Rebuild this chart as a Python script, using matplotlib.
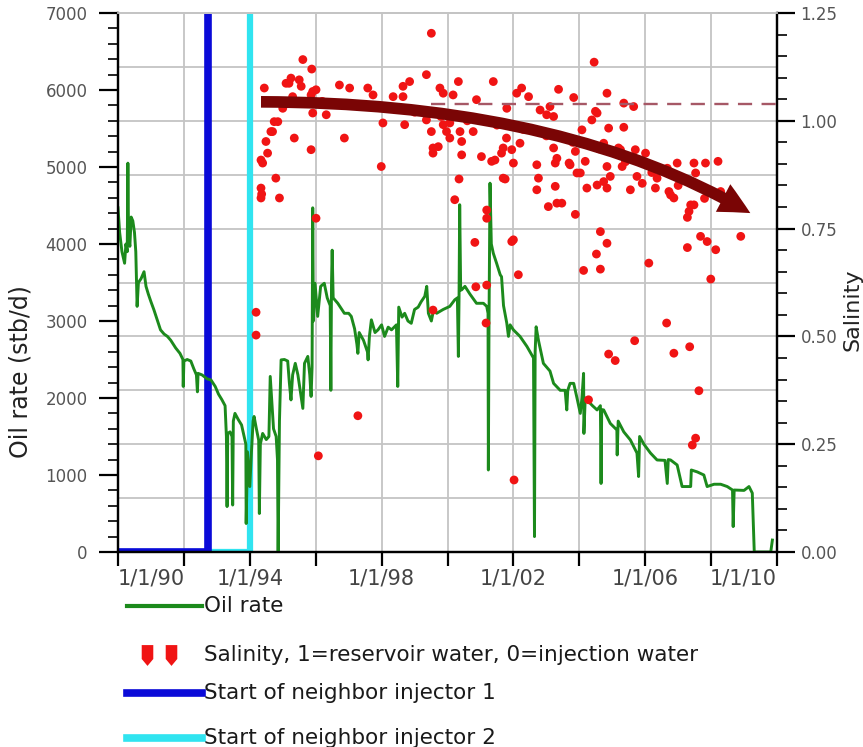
import numpy as np
import matplotlib
matplotlib.use('Agg')
import matplotlib.pyplot as plt
from matplotlib.lines import Line2D
from matplotlib.patches import FancyArrowPatch
from matplotlib.path import Path
from matplotlib.ticker import MultipleLocator

# ---------------- data ----------------
oil_years = [1990.00, 1990.05, 1990.12, 1990.20, 1990.24, 1990.28, 1990.30, 1990.32, 1990.36, 1990.40,
             1990.45, 1990.50, 1990.54, 1990.58, 1990.62, 1990.70, 1990.79, 1990.85, 1990.92, 1991.00,
             1991.09, 1991.20, 1991.29, 1991.40, 1991.50, 1991.60, 1991.75, 1991.88, 1991.97, 1991.98,
             1992.00, 1992.10, 1992.21, 1992.30, 1992.38, 1992.41, 1992.43, 1992.55, 1992.70, 1992.82,
             1992.95, 1993.05, 1993.15, 1993.25, 1993.29, 1993.31, 1993.33, 1993.40, 1993.46, 1993.48,
             1993.50, 1993.55, 1993.65, 1993.75, 1993.85, 1993.88, 1993.89, 1993.93, 1994.00, 1994.05,
             1994.10, 1994.13, 1994.20, 1994.27, 1994.29, 1994.32, 1994.39, 1994.50, 1994.58, 1994.62,
             1994.66, 1994.72, 1994.80, 1994.84, 1994.86, 1994.90, 1994.95, 1995.05, 1995.15, 1995.20,
             1995.25, 1995.30, 1995.38, 1995.46, 1995.53, 1995.61, 1995.66, 1995.76, 1995.82, 1995.86,
             1995.89, 1995.91, 1995.93, 1995.98, 1996.06, 1996.15, 1996.26, 1996.35, 1996.44, 1996.46,
             1996.48, 1996.50, 1996.53, 1996.67, 1996.87, 1997.00, 1997.08, 1997.18, 1997.25, 1997.28,
             1997.32, 1997.45, 1997.57, 1997.59, 1997.63, 1997.69, 1997.80, 1997.89, 1998.00, 1998.09,
             1998.20, 1998.30, 1998.45, 1998.49, 1998.52, 1998.62, 1998.70, 1998.80, 1998.90, 1999.00,
             1999.11, 1999.20, 1999.31, 1999.37, 1999.42, 1999.51, 1999.58, 1999.67, 1999.87, 2000.07,
             2000.22, 2000.30, 2000.33, 2000.35, 2000.37, 2000.40, 2000.43, 2000.53, 2000.68, 2000.88,
             2001.09, 2001.19, 2001.23, 2001.24, 2001.26, 2001.29, 2001.33, 2001.39, 2001.49, 2001.60,
             2001.64, 2001.70, 2001.80, 2001.85, 2001.90, 2002.00, 2002.20, 2002.41, 2002.61, 2002.64,
             2002.66, 2002.69, 2002.76, 2002.91, 2003.11, 2003.22, 2003.42, 2003.57, 2003.62, 2003.65,
             2003.72, 2003.83, 2003.93, 2004.03, 2004.08, 2004.13, 2004.14, 2004.18, 2004.23, 2004.40,
             2004.54, 2004.64, 2004.66, 2004.68, 2004.74, 2004.94, 2005.14, 2005.15, 2005.18, 2005.35,
             2005.55, 2005.75, 2005.80, 2005.83, 2005.96, 2006.16, 2006.36, 2006.60, 2006.67, 2006.70,
             2006.77, 2006.97, 2007.12, 2007.38, 2007.40, 2007.58, 2007.78, 2007.88, 2008.09, 2008.29,
             2008.49, 2008.65, 2008.67, 2008.70, 2009.00, 2009.15, 2009.25, 2009.31, 2009.81, 2009.86]
oil_rate = [4470, 4150, 3900, 3750, 4000, 3900, 5050, 4100, 3970, 4350,
            4300, 4150, 3900, 3190, 3500, 3550, 3640, 3450, 3350, 3250,
            3145, 3000, 2885, 2830, 2800, 2750, 2650, 2580, 2500, 2150,
            2480, 2500, 2480, 2380, 2300, 2080, 2320, 2300, 2250, 2235,
            2150, 2050, 1980, 1900, 1500, 590, 1540, 1560, 1500, 610,
            1700, 1800, 1720, 1650, 1460, 1400, 370, 1300, 850, 1300,
            1700, 1760, 1600, 1450, 500, 1400, 1540, 1460, 1500, 2280,
            2000, 1600, 1500, 1200, 0, 1700, 2495, 2500, 2480, 2200,
            1975, 2300, 2450, 2300, 2100, 1865, 2450, 2540, 2300, 2020,
            2400, 4470, 3000, 3490, 3060, 3450, 3490, 3300, 3200, 2100,
            3500, 3920, 3300, 3230, 3100, 3100, 3060, 2900, 2700, 2580,
            2850, 2750, 2600, 2495, 2800, 3015, 2850, 2885, 2950, 2800,
            2920, 2885, 2950, 2150, 3180, 3050, 3100, 3000, 2970, 3150,
            3180, 3250, 3320, 3450, 3100, 3000, 3150, 3100, 3150, 3190,
            3275, 3300, 2540, 3300, 4510, 3400, 3405, 3450, 3350, 3230,
            3230, 3190, 3100, 1065, 3000, 4790, 4000, 3880, 3750, 3600,
            3575, 3200, 2970, 2800, 2950, 2885, 2800, 2670, 2520, 200,
            2600, 2925, 2750, 2450, 2350, 2190, 2100, 2100, 1845, 2100,
            2190, 2190, 2000, 1800, 2000, 2320, 1540, 2000, 1975, 1900,
            1845, 1900, 890, 1850, 1845, 1670, 1585, 1260, 1700, 1560,
            1455, 1285, 980, 1500, 1400, 1285, 1195, 1190, 890, 1200,
            1195, 1130, 850, 850, 1065, 1040, 1000, 850, 880, 880,
            850, 805, 330, 805, 800, 850, 765, 0, 0, 155]

sal_years = [1994.19, 1994.19, 1994.34, 1994.34, 1994.39, 1994.34, 1994.54, 1994.49, 1994.64, 1994.74,
             1994.44, 1994.79, 1994.90, 1995.00, 1995.10, 1995.25, 1995.50, 1995.56, 1995.30, 1995.35,
             1995.61, 1995.88, 1995.91, 1996.01, 1995.86, 1995.91, 1996.32, 1995.86, 1996.01, 1996.08,
             1996.72, 1996.87, 1997.03, 1997.28, 1997.58, 1997.74, 1997.99, 1998.04, 1998.35, 1998.65,
             1998.85, 1998.65, 1998.70, 1999.36, 1999.36, 1999.51, 1999.51, 1999.56, 1999.72, 1999.56,
             1999.56, 1999.77, 1999.87, 1999.87, 2000.07, 1999.97, 2000.07, 2000.17, 2000.33, 2000.38,
             2000.43, 2000.43, 2000.35, 2000.22, 2000.78, 2000.88, 2000.83, 2000.86, 2001.03, 2001.19,
             2001.19, 2001.19, 2001.17, 2001.34, 2001.44, 2001.39, 2001.64, 2001.69, 2001.69, 2001.75,
             2001.79, 2001.95, 2002.00, 2001.95, 2002.00, 2002.02, 2002.10, 2002.25, 2002.46, 2001.80,
             2002.20, 2002.15, 2002.71, 2002.76, 2002.71, 2002.81, 2003.01, 2003.11, 2003.22, 2003.22,
             2003.32, 2003.27, 2003.27, 2003.06, 2003.32, 2003.37, 2003.72, 2003.83, 2003.88, 2003.88,
             2003.93, 2004.03, 2004.08, 2004.18, 2004.13, 2004.23, 2004.28, 2004.38, 2004.45, 2004.54,
             2004.49, 2004.54, 2004.52, 2004.64, 2004.64, 2004.74, 2004.74, 2004.84, 2004.84, 2004.84,
             2004.84, 2004.89, 2004.94, 2004.89, 2005.09, 2005.25, 2005.35, 2005.35, 2005.55, 2005.65,
             2005.70, 2005.68, 2005.75, 2005.91, 2006.01, 2006.11, 2006.31, 2006.36, 2006.67, 2006.65,
             2006.77, 2006.87, 2006.87, 2006.97, 2007.28, 2007.33, 2007.28, 2007.35, 2007.43, 2007.48,
             2007.48, 2007.53, 2007.53, 2007.63, 2007.68, 2007.83, 2007.88, 2007.99, 2008.14, 2008.21,
             2008.29, 2008.90, 1994.80, 1995.50, 1996.20, 1996.90, 1997.50, 1998.30, 1999.00, 1999.80,
             2000.60, 2001.50, 2002.30, 2003.00, 2003.80, 2004.60, 2005.40, 2006.20, 2007.00, 2007.80,
             1994.85, 1994.69, 1994.36, 1995.19, 2005.19, 2005.30, 2006.72, 2007.38, 2003.69, 2003.47]
sal_value = [0.556, 0.503, 0.821, 0.844, 0.902, 0.909, 0.925, 0.952, 0.975, 0.998,
             1.076, 0.867, 0.821, 1.029, 1.087, 1.099, 1.095, 1.080, 1.056, 0.960,
             1.142, 1.120, 1.068, 1.072, 1.060, 1.018, 1.014, 0.933, 0.774, 0.223,
             1.083, 0.960, 1.076, 0.316, 1.076, 1.060, 0.894, 0.995, 1.056, 1.080,
             1.091, 1.056, 0.991, 1.107, 1.002, 1.203, 0.975, 0.937, 0.940, 0.925,
             0.561, 1.076, 1.064, 0.991, 0.995, 0.975, 0.960, 1.060, 1.091, 0.975,
             0.952, 0.921, 0.865, 0.817, 0.975, 1.049, 0.718, 0.615, 0.917, 0.793,
             0.774, 0.619, 0.531, 0.906, 0.909, 1.091, 0.925, 0.937, 0.867, 0.865,
             0.960, 0.933, 0.902, 0.720, 0.724, 0.167, 1.064, 1.076, 1.056, 1.029,
             0.948, 0.643, 0.898, 0.867, 0.840, 1.025, 1.014, 1.033, 1.010, 0.937,
             0.913, 0.902, 0.848, 0.801, 0.809, 1.073, 0.898, 1.054, 0.929, 0.783,
             0.879, 0.879, 0.979, 0.906, 0.653, 0.844, 0.353, 1.002, 1.136, 1.018,
             1.022, 0.851, 0.691, 0.743, 0.656, 0.948, 0.859, 1.064, 0.894, 0.844,
             0.716, 0.983, 0.871, 0.459, 0.444, 0.933, 1.041, 0.985, 0.840, 1.033,
             0.933, 0.490, 0.871, 0.855, 0.925, 0.670, 0.844, 0.867, 0.890, 0.531,
             0.828, 0.821, 0.461, 0.902, 0.776, 0.790, 0.706, 0.476, 0.248, 0.902,
             0.805, 0.879, 0.264, 0.374, 0.732, 0.902, 0.720, 0.633, 0.701, 0.906,
             0.836, 0.732, 1.045, 1.040, 1.045, 1.040, 1.035, 1.030, 1.020, 1.010,
             1.000, 0.990, 0.980, 0.965, 0.950, 0.935, 0.905, 0.880, 0.850, 0.820,
             0.998, 0.975, 0.830, 1.087, 0.937, 0.894, 0.836, 0.805, 0.902, 0.809]

injector1_x = [1990.0, 1992.74, 1992.74]
injector1_y = [0, 0, 8000]
injector2_x = [1990.0, 1994.0, 1994.0]
injector2_y = [0, 0, 8000]

reservoir_level = 1.04           # dashed reference salinity
reservoir_from = 1999.5
trend_x = [1994.34, 2003.47, 2009.19]   # quadratic trend arrow (start, control, tip)
trend_y = [1.044, 1.042, 0.786]

x_ticks = [1990, 1992, 1994, 1996, 1998, 2000, 2002, 2004, 2006, 2008, 2010]
x_labels = ['1/1/90', '', '1/1/94', '', '1/1/98', '', '1/1/02', '', '1/1/06', '', '1/1/10']

legend_labels = ['Oil rate', 'Salinity, 1=reservoir water, 0=injection water',
                 'Start of neighbor injector 1', 'Start of neighbor injector 2']

# ---------------- style ----------------
GREEN = '#1c8a1c'
RED = '#f01414'
BLUE = '#0a0ad8'
CYAN = '#30e4f0'
DARKRED = '#7a0505'
GRID = '#c4c4c4'
TICKTXT = '#555555'

W, H = 863, 747
fig = plt.figure(figsize=(W / 100, H / 100), dpi=100)
L, R, T, B = 118, 777, 13, 552
ax = fig.add_axes([L / W, 1 - B / H, (R - L) / W, (B - T) / H])
ax2 = ax.twinx()

ax.set_xlim(1990, 2010)
ax.set_ylim(0, 7000)
ax2.set_ylim(0, 1.25)

# grid
for xv in x_ticks[1:-1]:
    ax.axvline(xv, color=GRID, lw=1.3, zorder=0)
for yv in np.arange(700, 7000, 700):
    ax.axhline(yv, color=GRID, lw=1.3, zorder=0)

# injector lines
ax.plot(injector2_x, injector2_y, color=CYAN, lw=4.5, zorder=2, solid_joinstyle='miter')
ax.plot(injector1_x, injector1_y, color=BLUE, lw=5.5, zorder=2, solid_joinstyle='miter')
# oil rate
ax.plot(oil_years, oil_rate, color=GREEN, lw=2.1, zorder=3)

# salinity
ax2.scatter(sal_years, sal_value, s=40, color=RED, edgecolors='none', zorder=3)
ax2.plot([reservoir_from, 2010], [reservoir_level, reservoir_level], color='#a65866',
         lw=1.7, dashes=(6, 4), zorder=4)
trend_path = Path(list(zip(trend_x, trend_y)), [Path.MOVETO, Path.CURVE3, Path.CURVE3])
arrow = FancyArrowPatch(path=trend_path, transform=ax2.transData,
                        arrowstyle='simple,head_length=1.6,head_width=1.6,tail_width=0.6',
                        mutation_scale=14, color=DARKRED, lw=0, zorder=5)
ax2.add_patch(arrow)

# spines
for a in (ax, ax2):
    a.spines['top'].set_color(GRID)
    a.spines['top'].set_linewidth(1.3)
    a.spines['left'].set_linewidth(1.6)
    a.spines['right'].set_linewidth(1.6)
    a.spines['bottom'].set_linewidth(1.6)

# ticks
ax.set_xticks(x_ticks)
ax.set_xticklabels(x_labels)
ax.tick_params(axis='x', which='major', direction='out', length=10, width=1.6,
               colors='black', labelcolor='#444444', labelsize=15, pad=2)
xl = ax.get_xticklabels()
xl[0].set_ha('left')
xl[-1].set_ha('right')

ax.set_yticks(range(0, 7001, 1000))
ax.yaxis.set_minor_locator(MultipleLocator(200))
ax.tick_params(axis='y', which='major', direction='out', length=14, width=1.6,
               labelcolor=TICKTXT, labelsize=12, pad=8)
ax.tick_params(axis='y', which='minor', direction='out', length=7, width=1.2)

ax2.set_yticks([0, 0.25, 0.5, 0.75, 1.0, 1.25])
ax2.set_yticklabels(['0.00', '0.25', '0.50', '0.75', '1.00', '1.25'])
ax2.yaxis.set_minor_locator(MultipleLocator(0.05))
ax2.tick_params(axis='y', which='major', direction='out', length=13, width=1.6,
                labelcolor=TICKTXT, labelsize=12, pad=4)
ax2.tick_params(axis='y', which='minor', direction='out', length=7, width=1.2)

ax.set_ylabel('Oil rate (stb/d)', fontsize=17, color='#222222')
ax.yaxis.set_label_coords(-0.129, 0.334)
ax2.set_ylabel('Salinity', fontsize=16, color='#222222', rotation=90)
ax2.yaxis.set_label_coords(1.100, 0.45)

# legend (manual, below axes)
def fx(px):
    return px / W

def fy(py):
    return 1 - py / H

rows = [606, 655, 693, 738]
fig.add_artist(Line2D([fx(127), fx(202)], [fy(rows[0])] * 2, color=GREEN, lw=3))
shield = [(-0.5, 0.9), (0.5, 0.9), (0.5, -0.3), (0.0, -0.9), (-0.5, -0.3), (-0.5, 0.9)]
fig.add_artist(Line2D([fx(147), fx(171)], [fy(rows[1])] * 2, ls='none', marker=shield,
                      markersize=15, color=RED, markeredgewidth=0))
fig.add_artist(Line2D([fx(127), fx(202)], [fy(rows[2])] * 2, color=BLUE, lw=5.5))
fig.add_artist(Line2D([fx(127), fx(202)], [fy(rows[3])] * 2, color=CYAN, lw=5.5))
for r, lab in zip(rows, legend_labels):
    fig.text(fx(204), fy(r), lab, fontsize=15.5, color='#1a1a1a', ha='left', va='center')

fig.savefig('out.png', dpi=100)
